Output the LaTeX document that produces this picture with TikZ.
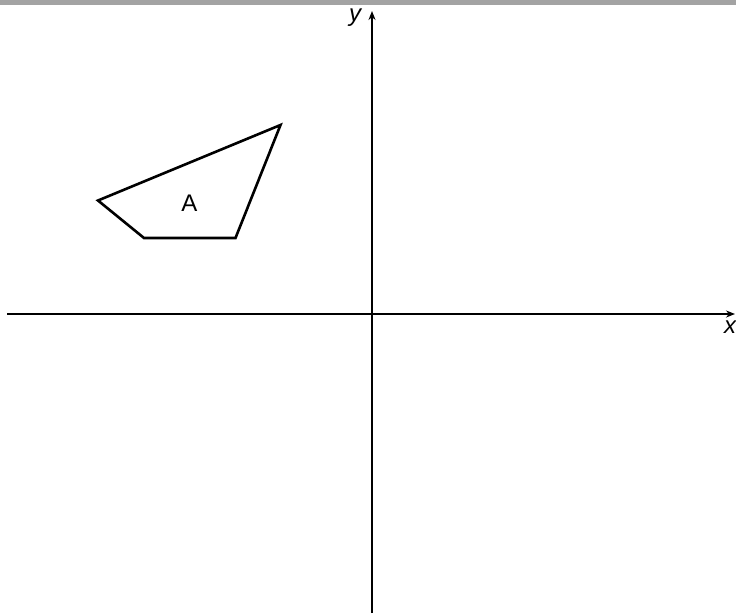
\documentclass[tikz,border=0pt]{standalone}
\usepackage{fontspec}
\setmainfont{Liberation Sans}
\usepackage{tikz}
\usetikzlibrary{arrows.meta}
\definecolor{planebar}{HTML}{A3A3A3}
\definecolor{planeink}{HTML}{000000}
\tikzset{
  axisline/.style={draw=planeink, line width=1.6pt, -{Stealth[length=9pt,width=7pt]}},
  shapeedge/.style={draw=planeink, line width=2.6pt, line join=miter},
  axislabel/.style={font=\fontsize{24}{28}\selectfont\itshape, inner sep=0pt},
  shapelabel/.style={font=\fontsize{24}{28}\selectfont, inner sep=0pt}
}

\begin{document}
\begin{tikzpicture}[x=1pt, y=-1pt]
    \useasboundingbox (0,0) rectangle (736,613);
    \fill[planebar] (0,0) rectangle (736,4.5);

    % axes
    \coordinate (xstart) at (7,314);
    \coordinate (xend) at (735,314);
    \coordinate (ystart) at (372,613);
    \coordinate (yend) at (372,11);
    \draw[axisline] (xstart) -- (xend);
    \draw[axisline] (ystart) -- (yend);
    \node[axislabel] (xlab) at (730,327) {x};
    \node[axislabel] (ylab) at (355,18) {y};

    % shape A
    \coordinate (pA) at (98,200.5);
    \coordinate (pB) at (280.5,125);
    \coordinate (pC) at (235.5,238);
    \coordinate (pD) at (144,238);
    \draw[shapeedge] (pA) -- (pB) -- (pC) -- (pD) -- cycle;
    \node[shapelabel] (Alab) at (189.5,203) {A};
  \end{tikzpicture}
\end{document}
